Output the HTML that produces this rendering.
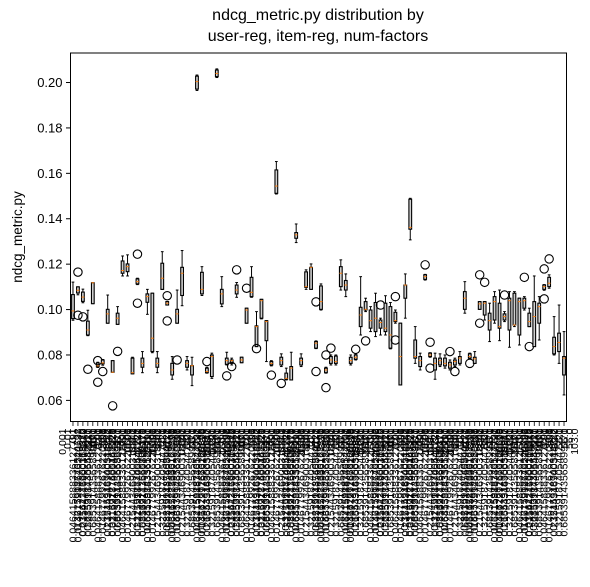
<!DOCTYPE html>
<html><head><meta charset="utf-8"><style>
html,body{margin:0;padding:0;background:#fff;}
svg{display:block;font-family:"Liberation Sans","DejaVu Sans",sans-serif;}
</style></head><body>
<svg id="chart" width="590" height="587" viewBox="0 0 590 587">
<text x="318" y="20" font-size="16" text-anchor="middle">ndcg_metric.py distribution by</text>
<text x="318" y="41" font-size="16" text-anchor="middle">user-reg, item-reg, num-factors</text>
<text transform="translate(22,237) rotate(-90)" font-size="13.5" text-anchor="middle">ndcg_metric.py</text>
<g id="plot"></g>
</svg>
<script>
const q3=[0.1066,0.1100,0.1077,0.0949,0.1118,0.0765,0.0778,0.1001,0.0775,0.0984,0.1214,0.1201,0.0786,0.1135,0.0786,0.1069,0.1072,0.0786,0.1204,0.1035,0.0763,0.1001,0.1186,0.0775,0.0753,0.2028,0.1164,0.0742,0.0800,0.2055,0.1089,0.0786,0.0778,0.1108,0.0790,0.1006,0.1142,0.0928,0.1045,0.0951,0.0771,0.1615,0.0790,0.0720,0.0749,0.1339,0.0786,0.1166,0.1186,0.0859,0.1104,0.0742,0.0793,0.0795,0.1189,0.1128,0.0790,0.0800,0.1010,0.1035,0.0998,0.1031,0.0954,0.1028,0.1013,0.0988,0.0940,0.1108,0.1486,0.0866,0.0793,0.1153,0.0808,0.0786,0.0786,0.0786,0.0768,0.0778,0.0793,0.1079,0.0805,0.0790,0.1035,0.1035,0.0984,0.1057,0.1028,0.0981,0.1050,0.1072,0.1050,0.1050,0.0984,0.1035,0.1028,0.1108,0.1142,0.0878,0.0896,0.0793];
const med=[0.0994,0.1085,0.1055,0.0910,0.1118,0.0752,0.0765,0.0981,0.0724,0.0962,0.1172,0.1189,0.0722,0.1123,0.0763,0.1057,0.0874,0.0763,0.1138,0.1028,0.0734,0.0981,0.1160,0.0763,0.0753,0.2004,0.1089,0.0727,0.0793,0.2040,0.1069,0.0775,0.0775,0.1086,0.0778,0.0998,0.1076,0.0925,0.1039,0.0947,0.0763,0.1544,0.0775,0.0697,0.0742,0.1329,0.0775,0.1101,0.1186,0.0852,0.1035,0.0734,0.0778,0.0771,0.1160,0.1108,0.0775,0.0790,0.0976,0.1001,0.0951,0.0962,0.0943,0.0918,0.0888,0.0951,0.0793,0.1108,0.1362,0.0793,0.0775,0.1145,0.0800,0.0763,0.0775,0.0763,0.0756,0.0771,0.0786,0.1050,0.0793,0.0783,0.1025,0.1028,0.0951,0.1035,0.0925,0.0969,0.1039,0.0932,0.1035,0.1039,0.0947,0.0969,0.1013,0.1101,0.1116,0.0837,0.0855,0.0786];
const q1=[0.0960,0.1073,0.1036,0.0888,0.1026,0.0748,0.0761,0.0940,0.0724,0.0935,0.1160,0.1167,0.0717,0.1113,0.0746,0.1032,0.0815,0.0746,0.1089,0.1020,0.0712,0.0940,0.1062,0.0746,0.0712,0.1971,0.1069,0.0722,0.0705,0.2026,0.1025,0.0759,0.0763,0.1069,0.0766,0.0940,0.1057,0.0837,0.0962,0.0863,0.0756,0.1512,0.0756,0.0693,0.0690,0.1314,0.0756,0.1098,0.1089,0.0830,0.1001,0.0722,0.0763,0.0763,0.1101,0.1086,0.0763,0.0781,0.0925,0.0998,0.0918,0.0903,0.0918,0.0903,0.0830,0.0947,0.0668,0.1050,0.1354,0.0786,0.0749,0.1133,0.0793,0.0734,0.0756,0.0752,0.0742,0.0756,0.0763,0.1001,0.0786,0.0763,0.1001,0.0976,0.0910,0.0954,0.0918,0.0954,0.0910,0.0932,0.0888,0.1006,0.0925,0.0837,0.0940,0.1089,0.1101,0.0805,0.0815,0.0712];
const whisHi=[0.1121,0.1100,0.1090,0.0997,0.1118,0.0768,0.0780,0.1064,0.0775,0.1013,0.1236,0.1241,0.0790,0.1138,0.0815,0.1089,0.1072,0.0815,0.1255,0.1035,0.0793,0.1086,0.1260,0.0793,0.0790,0.2033,0.1189,0.0746,0.0808,0.2060,0.1145,0.0812,0.0786,0.1119,0.0790,0.1006,0.1189,0.0991,0.1045,0.0951,0.0775,0.1652,0.0805,0.0742,0.0812,0.1377,0.0805,0.1175,0.1201,0.0862,0.1113,0.0746,0.0800,0.0800,0.1219,0.1157,0.0800,0.0805,0.1145,0.1050,0.1013,0.1072,0.0962,0.1061,0.1031,0.0998,0.0940,0.1157,0.1490,0.0925,0.0808,0.1155,0.0810,0.0808,0.0805,0.0800,0.0778,0.0786,0.0815,0.1123,0.0808,0.0815,0.1035,0.1035,0.1028,0.1079,0.1086,0.0991,0.1079,0.1079,0.1050,0.1057,0.1006,0.1148,0.1057,0.1110,0.1153,0.0969,0.1020,0.0903];
const whisLo=[0.0953,0.1065,0.1030,0.0885,0.1026,0.0745,0.0755,0.0940,0.0724,0.0935,0.1148,0.1148,0.0717,0.1110,0.0722,0.0979,0.0810,0.0722,0.1089,0.1020,0.0693,0.0940,0.1017,0.0734,0.0665,0.1965,0.1062,0.0720,0.0697,0.2022,0.1013,0.0756,0.0756,0.1054,0.0766,0.0940,0.1054,0.0837,0.0959,0.0771,0.0752,0.1509,0.0749,0.0690,0.0690,0.1295,0.0749,0.1089,0.1089,0.0828,0.0998,0.0720,0.0756,0.0756,0.1086,0.1057,0.0756,0.0778,0.0888,0.0991,0.0903,0.0881,0.0888,0.0888,0.0827,0.0940,0.0668,0.0962,0.1307,0.0763,0.0734,0.1130,0.0790,0.0693,0.0749,0.0742,0.0734,0.0749,0.0756,0.0984,0.0783,0.0763,0.1001,0.0954,0.0859,0.0940,0.0863,0.0947,0.0834,0.0925,0.0844,0.0998,0.0925,0.0837,0.0866,0.1085,0.1094,0.0800,0.0763,0.0624];
const fliers=[[],[0.1165,0.0975],[0.0968],[0.0737],[],[0.0775,0.0680],[0.0727],[],[0.0576],[0.0816],[],[],[],[0.1244,0.1028],[],[],[],[],[],[0.1061,0.0950],[],[0.0778],[],[],[],[],[],[0.0771],[],[],[],[0.0708],[0.0749],[0.1175],[],[0.1094],[],[0.0828],[],[],[0.0711],[],[0.0675],[],[],[],[],[],[],[0.1034,0.0727],[],[0.0800,0.0656],[0.0830],[],[],[],[],[0.0825],[],[0.0862],[],[],[0.1020],[],[],[0.1057,0.0866],[],[],[],[],[],[0.1197],[0.0856,0.0742],[],[],[],[0.0815],[0.0727],[],[],[0.0763],[],[0.1153,0.0940],[0.1120],[],[],[],[0.1064],[],[],[],[0.1142],[0.0837],[],[],[0.1179,0.1047],[0.1223],[],[],[]];
const yTicks=[0.06,0.08,0.10,0.12,0.14,0.16,0.18,0.20];
const userRegVals=["0.001","0.01","0.1","0.3215918740544722","0.03162277660168379","0.6853914356589917"];
const itemRegVals=["0.32159187405447221","0.046415888336127791","0.21544346900318842","0.68539143565899171","0.014677992676220698"];
const numFactorVals=["10.0","32.0","56.0","103.0","150.0"];

const NS="http://www.w3.org/2000/svg";
const L=70.5,R=566.5,T=53,B=421.5;
const N=q3.length;
const yMin=0.0507,yMax=0.2130;
function ys(v){return B-(v-yMin)/(yMax-yMin)*(B-T);}
function xs(i){return L+(i+0.5)*(R-L)/N;}
const g=document.getElementById('plot');
function mk(tag,attrs,parent){const e=document.createElementNS(NS,tag);for(const k in attrs)e.setAttribute(k,attrs[k]);(parent||g).appendChild(e);return e;}

const bw=(R-L)/N*0.55;
for(let i=0;i<N;i++){
  const bx=mk('g',{});
  
  
  const x=xs(i);
  const w1=mk('line',{x1:x,x2:x,y1:ys(q3[i]),y2:ys(whisHi[i]),stroke:'#000','stroke-width':1},bx);
  
  
  const w2=mk('line',{x1:x,x2:x,y1:ys(q1[i]),y2:ys(whisLo[i]),stroke:'#000','stroke-width':1},bx);
  
  
  const c1=mk('line',{x1:x-bw/2,x2:x+bw/2,y1:ys(whisHi[i]),y2:ys(whisHi[i]),stroke:'#000','stroke-width':1},bx);
  
  
  const c2=mk('line',{x1:x-bw/2,x2:x+bw/2,y1:ys(whisLo[i]),y2:ys(whisLo[i]),stroke:'#000','stroke-width':1},bx);
  
  
  const r=mk('rect',{x:x-bw/2,y:ys(q3[i]),width:bw,height:Math.max(0.5,ys(q1[i])-ys(q3[i])),fill:'#cfcfcf',stroke:'#000','stroke-width':1.1},bx);
  
  
  const m=mk('line',{x1:x-bw/2,x2:x+bw/2,y1:ys(med[i]),y2:ys(med[i]),stroke:'#ff7f0e','stroke-width':1},bx);
  
  
  fliers[i].forEach(v=>{
    const c=mk('circle',{cx:x,cy:ys(v),r:4.2,fill:'none',stroke:'#000','stroke-width':1.1},bx);
    
    
  });
}
const fr=mk('rect',{x:L,y:T,width:R-L,height:B-T,fill:'none',stroke:'#000','stroke-width':1});


yTicks.forEach(v=>{
  const y=ys(v);
  const t=mk('line',{x1:L-4.5,x2:L,y1:y,y2:y,stroke:'#000','stroke-width':1});
  
  
  const lb=mk('text',{x:L-8,y:y+4.5,'font-size':13,'text-anchor':'end'});
  
  
  lb.textContent=v.toFixed(2);
});
for(let i=0;i<N;i++){
  const x=xs(i);
  const t=mk('line',{x1:x,x2:x,y1:B,y2:B+4.5,stroke:'#000','stroke-width':0.8});
  
  
  const lines=[userRegVals[i%userRegVals.length],itemRegVals[(i*3+1)%itemRegVals.length],numFactorVals[Math.floor(i/3)%numFactorVals.length]];
  const tx=mk('text',{transform:`translate(${x},${B+7}) rotate(-90)`,'font-size':10.5,'text-anchor':'end'});
  
  
  lines.forEach((s,k)=>{
    const sp=mk('tspan',{x:0,y:(k-1)*10.5+3.5},tx);
    sp.textContent=s;
  });
}
</script>
</body></html>
